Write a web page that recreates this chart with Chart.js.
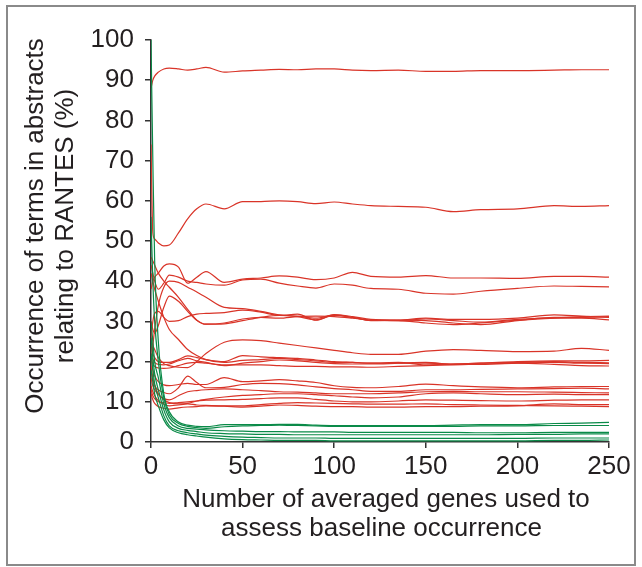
<!DOCTYPE html>
<html>
<head>
<meta charset="utf-8">
<script src="https://cdn.jsdelivr.net/npm/chart.js@4.4.0/dist/chart.umd.min.js"></script>
<style>
    html, body { margin: 0; padding: 0; background: #fff; }
    #frame { position: absolute; left: 6px; top: 5px; width: 626px; height: 557px; border: 2px solid #8a8a8a; }
    #chart { position: absolute; left: 0; top: 0; }
</style>
</head>
<body>
<div id="frame"></div>
<canvas id="chart" width="642" height="567"></canvas>
<script>
(function () {
    'use strict';

    // number of averaged genes (x samples shared by every line)
    var xs = [0, 1, 2, 4, 7, 10, 15, 20, 25, 30, 40, 50, 60, 70, 80, 90, 100, 110, 120, 135, 150, 165, 180, 200, 220, 235, 250];

    var xTicks = [0, 50, 100, 150, 200, 250];
    var yTicks = [0, 10, 20, 30, 40, 50, 60, 70, 80, 90, 100];

    var xTitle = ['Number of averaged genes used to', 'assess baseline occurrence'];
    var yTitle = ['Occurrence of terms in abstracts', 'relating to RANTES (%)'];

    // red terms (%)
    var red1 = [88, 90, 91, 92, 92.8, 93, 92.8, 92.5, 92.8, 93.2, 92, 92.3, 92.5, 92.7, 92.6, 92.8, 92.8, 92.5, 92.4, 92.5, 92.2, 92.2, 92.4, 92.4, 92.5, 92.6, 92.6];
    var red2 = [74, 52, 50.5, 49.5, 48.8, 49, 52, 55.5, 58, 59.2, 58, 59.8, 59.8, 60, 59.8, 59.3, 59.7, 59.2, 58.8, 58.6, 58.4, 57.3, 57.8, 58, 58.8, 58.6, 58.8];
    var red3 = [38, 40, 41, 42, 43.8, 44.3, 43.5, 39.5, 41, 42.4, 39.7, 40.5, 40.8, 41.3, 41, 40.4, 40.8, 42.2, 41.2, 41, 41.4, 40.8, 40.8, 40.7, 41.2, 41.2, 41];
    var red4 = [44, 42, 40, 38, 39.5, 41.5, 41, 40, 39.7, 39.3, 39, 40.3, 40.5, 39.5, 38.8, 38.3, 39.3, 39, 38.2, 38, 37, 36.8, 37.5, 38.2, 38.8, 38.7, 38.6];
    var red5 = [46, 45, 44, 42, 40, 38.5, 36, 33, 30.3, 29.3, 29.4, 30.2, 31, 31.5, 31.2, 30.4, 31.5, 31, 30.3, 30.2, 29.6, 29.2, 29.6, 30.3, 31, 31, 31.2];
    var red6 = [30, 28, 27, 29, 33.5, 36.3, 35, 32.5, 30.3, 29.3, 29.6, 30.6, 31, 30.8, 31.2, 31.3, 31.2, 30.8, 30.3, 30.2, 30.6, 30.2, 29.8, 30.5, 30.8, 30.8, 30.4];
    var red7 = [20, 24, 28, 34, 38.5, 40, 39.7, 38.5, 37.3, 36, 33.5, 33.2, 32.5, 31.6, 31.3, 30.8, 31.6, 31.2, 30.5, 30.3, 30.8, 30.5, 30.5, 30.8, 31.6, 31.3, 31];
    var red8 = [26, 30, 32, 32.5, 31, 30, 30.2, 31.2, 31.8, 32, 32.2, 32.8, 32.3, 31.5, 31.8, 30.3, 31.7, 31, 30.2, 30.3, 30.2, 29.6, 29.2, 30.2, 30.8, 31.2, 31.3];
    var red9 = [42, 40, 38, 35, 31, 28, 25.5, 23, 21.5, 20.5, 19.8, 20.3, 20.5, 20.8, 20.5, 20.2, 19.8, 19.8, 19.6, 19.8, 19.2, 19.4, 19.6, 19.8, 20, 19.8, 19.7];
    var red10 = [26, 24, 23, 21, 19.5, 19, 18.6, 18.5, 20, 22, 24.8, 25.4, 25.2, 24.6, 24, 23.4, 22.8, 22.2, 21.8, 21.8, 22.6, 23, 22.8, 22.5, 22.6, 23.3, 22.8];
    var red11 = [24, 22, 21, 20, 19.8, 19.8, 20.5, 21.4, 21, 20.5, 20, 21.5, 21.2, 21, 20.8, 20.4, 20, 19.8, 19.6, 19.6, 19.6, 19.4, 19.6, 20, 20.2, 20.2, 20.3];
    var red12 = [22, 20.5, 19.8, 19.3, 19.2, 19.4, 20.2, 20.8, 20.2, 19.8, 19, 19.6, 20, 20.4, 20.2, 19.8, 19.5, 19.4, 19.4, 19.6, 19.8, 19.3, 19.3, 19.6, 19.8, 19.6, 19.5];
    var red13 = [21, 19.5, 18.8, 18.4, 18.3, 18.4, 19, 19.6, 19.8, 19.6, 19.2, 19.2, 19.2, 19, 18.8, 18.8, 18.7, 18.7, 18.6, 18.8, 19, 19.2, 19.4, 19.6, 19.3, 19, 18.9];
    var red14 = [21, 18, 16.5, 15, 14.2, 14, 14.3, 14.6, 14.3, 14.3, 16, 15, 15.2, 15.5, 15.2, 14.8, 14, 13.6, 13.5, 13.8, 14.4, 14, 13.7, 13.5, 13.7, 13.8, 13.8];
    var red15 = [18, 15.5, 14, 13, 12.3, 12, 13.5, 16.4, 14.8, 13.5, 13.6, 14.3, 14.6, 14.5, 14.2, 13.7, 13.3, 13, 12.6, 12.6, 13, 13, 13.1, 13.2, 13.3, 13.4, 13.2];
    var red16 = [16, 14, 13, 11.8, 10.8, 10.5, 11.5, 12.5, 12.8, 13, 13.2, 13, 12.8, 12.5, 12.4, 12.2, 12, 12, 12, 12.2, 12.5, 12.6, 12.5, 12.5, 12.4, 12.3, 12.2];
    var red17 = [14, 12.5, 11.5, 10.3, 9.4, 9, 9.2, 9.6, 10.2, 10.6, 11.2, 11.6, 11.8, 12, 12, 11.8, 11.5, 11.2, 11, 11.2, 12, 12.2, 12, 11.8, 11.9, 11.8, 11.8];
    var red18 = [13, 11.5, 10.8, 10, 9.8, 9.6, 9.8, 10, 10.2, 10.4, 10.5, 10.6, 10.8, 11, 11, 10.6, 10.2, 10, 10, 10.2, 10.5, 10.4, 10.3, 10.2, 10.4, 10.5, 10.5];
    var red19 = [12, 10.5, 9.6, 8.8, 8.4, 8.2, 8.5, 8.7, 8.8, 9, 8.9, 8.7, 8.9, 9.2, 9.1, 8.9, 8.8, 8.8, 8.7, 8.7, 8.8, 8.8, 8.9, 9, 9.5, 9.3, 9.3];
    var red20 = [19, 16, 14, 12, 10.5, 9.8, 9.5, 9.5, 9.2, 9.1, 9, 9, 9.3, 9.6, 9.8, 9.7, 9.6, 9.5, 9.4, 9.4, 9.5, 9.3, 9.2, 9.1, 9, 8.9, 8.8];

    // green terms (%)
    var green1 = [100, 70, 45, 25, 12, 7.5, 5, 4.2, 3.9, 3.8, 4.3, 4.3, 4.3, 4.4, 4.4, 4.2, 4.1, 4.1, 4.1, 4.1, 4.1, 4.2, 4.3, 4.3, 4.6, 4.7, 4.9];
    var green2 = [56, 40, 30, 20, 11, 6.8, 4.6, 3.9, 3.6, 3.4, 3.8, 4, 4.1, 4.2, 4.1, 4, 3.9, 3.9, 3.9, 3.9, 3.9, 3.9, 4, 4, 4.1, 4.1, 4.1];
    var green3 = [30, 25, 20, 16, 9.5, 6, 4, 3.4, 3.2, 3, 2.8, 2.7, 2.6, 2.6, 2.5, 2.5, 2.5, 2.4, 2.4, 2.4, 2.4, 2.4, 2.3, 2.3, 2.4, 2.4, 2.4];
    var green4 = [26, 21, 17, 13, 8, 5, 3.4, 2.9, 2.6, 2.3, 2.1, 2, 1.9, 1.9, 1.8, 1.8, 1.8, 1.8, 1.8, 1.8, 1.8, 1.8, 1.8, 1.9, 1.9, 2, 2];
    var green5 = [22, 18, 14.5, 11, 6.5, 4, 2.8, 2.3, 2, 1.7, 1.4, 1.2, 1.1, 1, 1, 1, 0.9, 0.9, 0.9, 0.9, 0.9, 0.9, 0.9, 0.9, 1, 1, 1];
    var green6 = [18, 15, 12, 9, 5.5, 3.5, 2.3, 1.8, 1.5, 1.2, 0.8, 0.6, 0.5, 0.4, 0.4, 0.4, 0.3, 0.3, 0.3, 0.3, 0.3, 0.3, 0.3, 0.3, 0.4, 0.4, 0.5];

    var redLines = [red1, red2, red3, red4, red5, red6, red7, red8, red9, red10,
        red11, red12, red13, red14, red15, red16, red17, red18, red19, red20];
    var greenLines = [green1, green2, green3, green4, green5, green6];

    var RED = 'rgb(217, 52, 40)';
    var GREEN = 'rgb(10, 138, 72)';
    var INK = '#231f20';
    var FONT = '"Liberation Sans", Arial, Helvetica, sans-serif';

    function toPoints(values) {
        return values.map(function (v, i) {
            return { x: xs[i], y: v };
        });
    }

    function makeSet(values, color) {
        return {
            data: toPoints(values),
            borderColor: color,
            borderWidth: 1.2,
            pointRadius: 0,
            fill: false,
            cubicInterpolationMode: 'monotone'
        };
    }

    // first dataset ends up on top, so green goes first
    var datasets = [];
    greenLines.forEach(function (v) { datasets.push(makeSet(v, GREEN)); });
    redLines.forEach(function (v) { datasets.push(makeSet(v, RED)); });

    var axisTitles = {
        id: 'axisTitles',
        afterDraw: function (chart) {
            var ctx = chart.ctx;
            ctx.save();
            ctx.fillStyle = INK;
            ctx.font = '26px ' + FONT;
            ctx.textAlign = 'center';
            ctx.textBaseline = 'alphabetic';
            ctx.fillText(xTitle[0], 386, 507);
            ctx.fillText(xTitle[1], 381.5, 536);
            ctx.translate(43, 226);
            ctx.rotate(-Math.PI / 2);
            ctx.fillText(yTitle[0], 0, 0);
            ctx.fillText(yTitle[1], 0, 30);
            ctx.restore();
        }
    };

    new Chart(document.getElementById('chart'), {
        type: 'line',
        data: { datasets: datasets },
        plugins: [axisTitles],
        options: {
            responsive: false,
            animation: false,
            layout: { padding: { left: 0, top: 40, right: 33, bottom: 0 } },
            plugins: {
                legend: { display: false },
                tooltip: { enabled: false }
            },
            scales: {
                x: {
                    type: 'linear',
                    min: 0,
                    max: 250,
                    afterBuildTicks: function (axis) {
                        axis.ticks = xTicks.map(function (v) { return { value: v }; });
                    },
                    afterFit: function (axis) { axis.height = 125; },
                    grid: { drawOnChartArea: false, drawTicks: true, tickLength: 6, color: '#333', lineWidth: 1.5 },
                    border: { display: true, color: '#333', width: 1.5 },
                    ticks: { color: INK, font: { family: FONT, size: 26 }, padding: 3, maxRotation: 0 }
                },
                y: {
                    min: 0,
                    max: 100,
                    afterBuildTicks: function (axis) {
                        axis.ticks = yTicks.map(function (v) { return { value: v }; });
                    },
                    afterFit: function (axis) { axis.width = 151; },
                    grid: { drawOnChartArea: false, drawTicks: true, tickLength: 6, color: '#333', lineWidth: 1.5 },
                    border: { display: true, color: '#333', width: 1.5 },
                    ticks: { color: INK, font: { family: FONT, size: 26 }, padding: 11 }
                }
            }
        }
    });
})();
</script>
</body>
</html>
